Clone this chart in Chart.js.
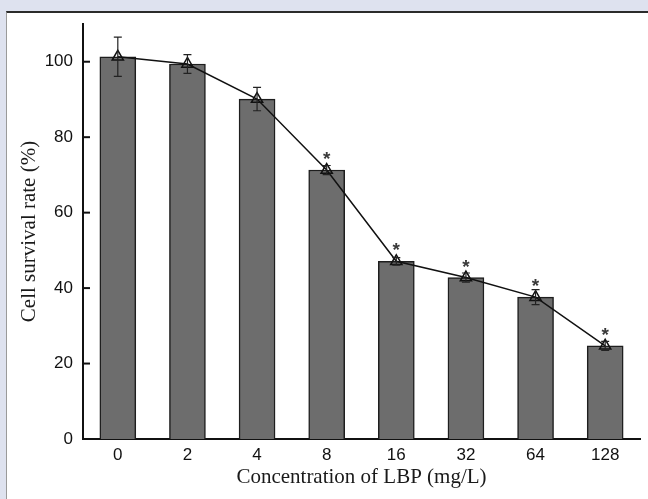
<!DOCTYPE html>
<html>
<head>
<meta charset="utf-8">
<script src="https://cdn.jsdelivr.net/npm/chart.js@4"></script>
<style>
  html, body { margin: 0; padding: 0; }
  body { width: 648px; height: 499px; background: #dee2ef; position: relative; overflow: hidden; }
  #panel { position: absolute; left: 6px; top: 11px; right: 0; bottom: 0; background: #fff;
           border-top: 2px solid #2b2b2b; border-left: 1px solid #9a9a9a; }
  #wrap { position: absolute; left: 0; top: 0; width: 648px; height: 499px; }
</style>
</head>
<body>
<div id="panel"></div>
<div id="wrap"><canvas id="survivalChart" width="648" height="499"></canvas></div>
<script>
'use strict'

var concentrations = ['0', '2', '4', '8', '16', '32', '64', '128'];
var survivalRates = [101.3, 99.4, 90.1, 71.3, 47.1, 42.8, 37.6, 24.7];
var errorValues = [5.2, 2.5, 3.1, 1.2, 1.0, 1.2, 2.0, 1.2];
var significant = [false, false, false, true, true, true, true, true];
var yTicks = [0, 20, 40, 60, 80, 100];

// error bars, inward y ticks and the asterisks
var extrasPlugin = {
  id: 'extras',
  afterDatasetsDraw: function (chart) {
    var ctx = chart.ctx;
    var x = chart.scales.x;
    var y = chart.scales.y;
    ctx.save();

    ctx.strokeStyle = '#111';
    ctx.lineWidth = 2;
    yTicks.forEach(function (v) {
      if (v === 0) return;
      var py = y.getPixelForValue(v);
      ctx.beginPath();
      ctx.moveTo(x.left, py);
      ctx.lineTo(x.left + 7, py);
      ctx.stroke();
    });

    ctx.strokeStyle = '#222';
    ctx.lineWidth = 1.2;
    survivalRates.forEach(function (v, i) {
      var px = x.getPixelForValue(i);
      var top = y.getPixelForValue(v + errorValues[i]);
      var bot = y.getPixelForValue(v - errorValues[i]);
      ctx.beginPath();
      ctx.moveTo(px, top);
      ctx.lineTo(px, bot);
      ctx.moveTo(px - 4, top);
      ctx.lineTo(px + 4, top);
      ctx.moveTo(px - 4, bot);
      ctx.lineTo(px + 4, bot);
      ctx.stroke();
    });

    ctx.fillStyle = '#3a3a3a';
    ctx.font = 'bold 19px "Liberation Sans", Arial, sans-serif';
    ctx.textAlign = 'center';
    ctx.textBaseline = 'alphabetic';
    survivalRates.forEach(function (v, i) {
      if (!significant[i]) return;
      var px = x.getPixelForValue(i);
      var py = y.getPixelForValue(v);
      ctx.fillText('*', px, py - 5);
    });
    ctx.restore();
  }
};

var canvas = document.getElementById('survivalChart');

var survivalChart = new Chart(canvas, {
  type: 'bar',
  data: {
    labels: concentrations,
    datasets: [
      {
        type: 'line',
        label: 'Survival trend',
        data: survivalRates,
        borderColor: '#111',
        borderWidth: 1.5,
        tension: 0,
        pointStyle: 'triangle',
        pointRadius: 6.5,
        pointBorderWidth: 1.5,
        pointBorderColor: '#111',
        pointBackgroundColor: 'rgba(0,0,0,0)',
        order: 0
      },
      {
        label: 'Cell survival rate',
        data: survivalRates,
        backgroundColor: '#6d6d6d',
        borderColor: '#1e1e1e',
        borderWidth: 1.5,
        borderSkipped: 'bottom',
        barThickness: 36,
        order: 1
      }]
  },
  options: {
    responsive: false,
    animation: false,
    layout: { padding: { top: 24, right: 6, bottom: 0, left: 0 } },
    plugins: {
      legend: { display: false },
      tooltip: { enabled: false }
    },
    scales: {
      x: {
        offset: true,
        grid: { display: false, drawTicks: false },
        border: { display: true, color: '#111', width: 2 },
        ticks: {
          color: '#111',
          padding: 6,
          font: { family: '"Liberation Sans", Arial, sans-serif', size: 17 }
        },
        title: {
          display: true,
          text: 'Concentration of LBP (mg/L)',
          color: '#1a1a1a',
          padding: { top: 0, bottom: 9 },
          font: { family: '"Liberation Serif", "Times New Roman", serif', size: 21 }
        },
        afterFit: function (scale) { scale.height = 60; }
      },
      y: {
        min: 0,
        max: 110,
        grid: { display: false, drawTicks: false },
        border: { display: true, color: '#111', width: 2 },
        ticks: {
          color: '#111',
          padding: 10,
          font: { family: '"Liberation Sans", Arial, sans-serif', size: 17 }
        },
        afterBuildTicks: function (scale) {
          scale.ticks = yTicks.map(function (v) { return { value: v }; });
        },
        title: {
          display: true,
          text: 'Cell survival rate (%)',
          color: '#1a1a1a',
          padding: { top: 17, bottom: 0 },
          font: { family: '"Liberation Serif", "Times New Roman", serif', size: 21 }
        },
        afterFit: function (scale) { scale.width = 83; }
      }
    }
  },
  plugins: [extrasPlugin]
});
</script>
</body>
</html>
